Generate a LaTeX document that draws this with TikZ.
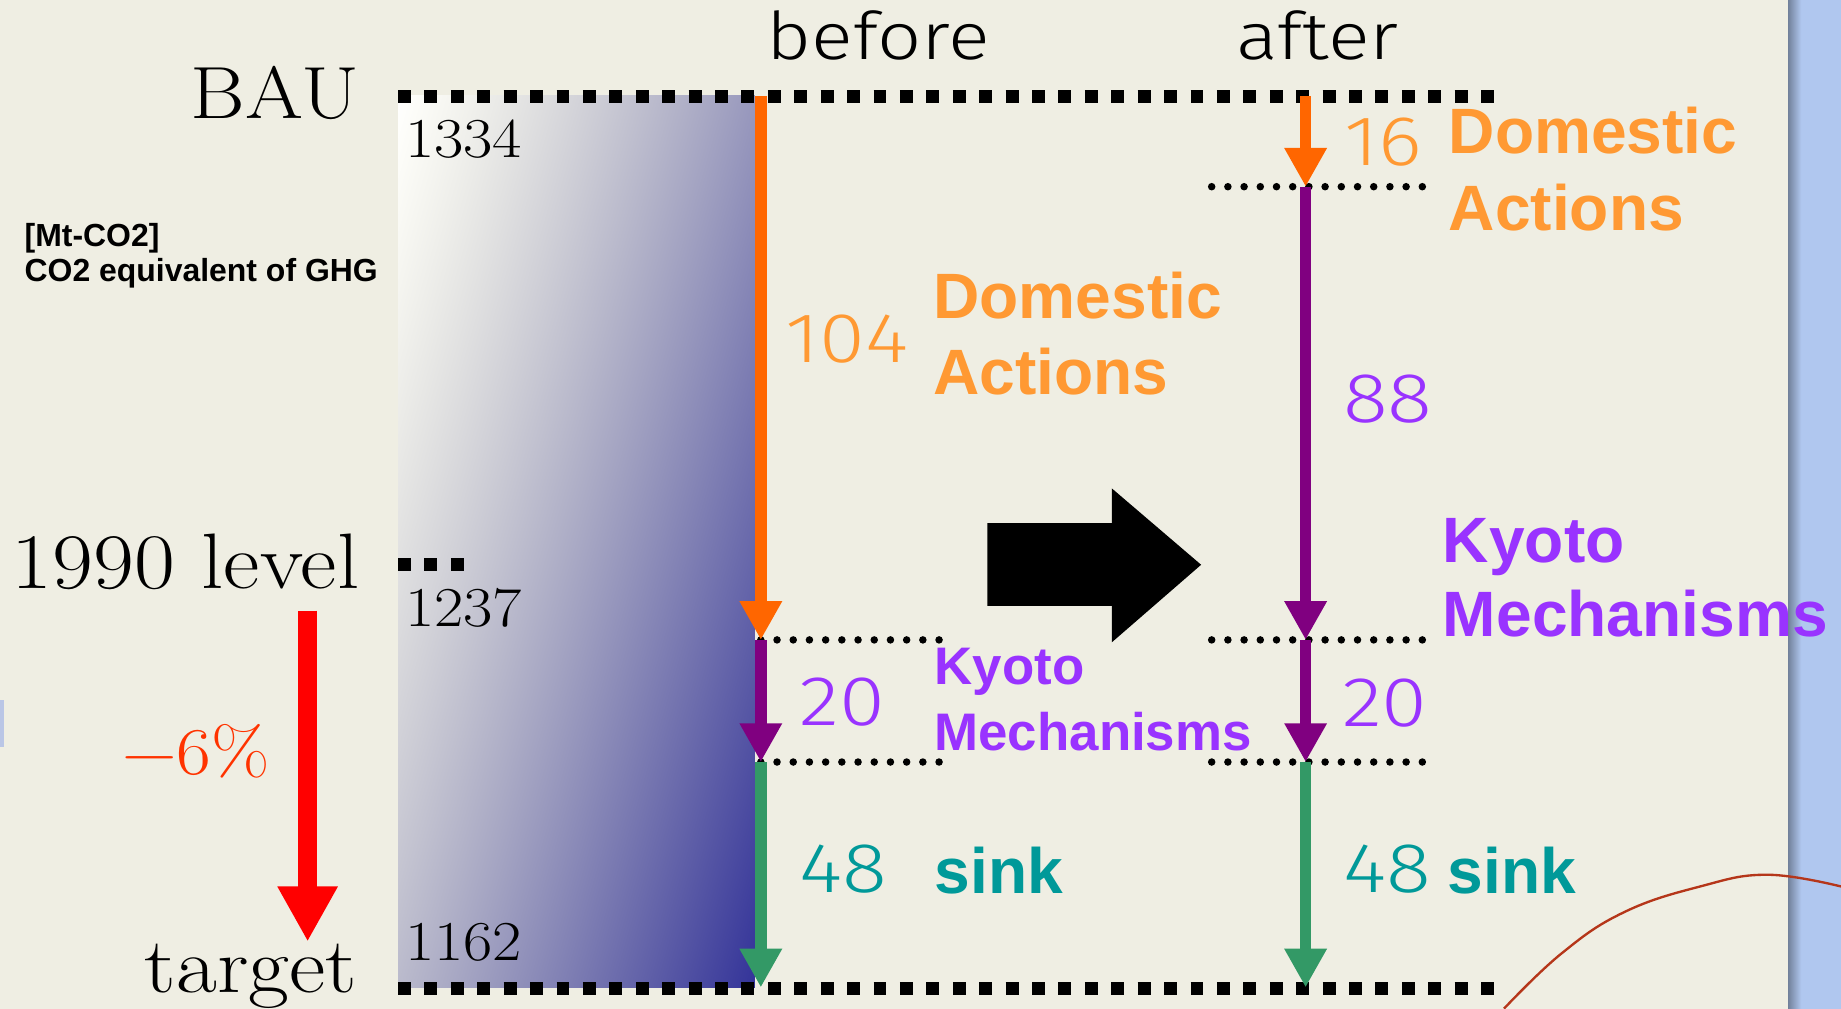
\documentclass[tikz,border=0pt]{standalone}
\usepackage{fontspec}
\newfontfamily\labelsans{Liberation Sans}
\newfontfamily\thinsans{Fira Sans Light}[FakeStretch=1.18]
\newfontfamily\wideserif{Latin Modern Roman}[FakeStretch=1.13]
\usetikzlibrary{arrows.meta}
\definecolor{paper}{HTML}{EFEEE3}
\definecolor{sky}{HTML}{B0C7EF}
\definecolor{smudge}{HTML}{BAC6E6}
\definecolor{domarrow}{HTML}{FF6600}
\definecolor{domtext}{HTML}{FF9933}
\definecolor{kyoarrow}{HTML}{800080}
\definecolor{kyotext}{HTML}{9933FF}
\definecolor{sinkarrow}{HTML}{339966}
\definecolor{sinktext}{HTML}{009999}
\definecolor{cut}{HTML}{FF3300}
\definecolor{thread}{HTML}{B5361A}
% white (top left) to navy (bottom right) across the filled box
\pgfdeclarefunctionalshading{blockfade}{\pgfpointorigin}{\pgfpoint{100bp}{100bp}}{}{
  -0.42 mul exch 0.58 mul add 17 add 50 div
  dup 0 lt {pop 0} if dup 1 gt {pop 1} if
  dup 1.25 exp 0.8 mul 1 exch sub
  dup
  3 -1 roll
  0.8 exp 0.4 mul 1 exch sub
}
\begin{document}
\begin{tikzpicture}[x=0.5pt,y=-0.5pt,
  every node/.style={inner sep=0pt, outer sep=0pt},
  levelline/.style={line width=5.5pt, dash pattern=on 5.5pt off 5.75pt},
  dotline/.style={line width=3.2pt, line cap=round, dash pattern=on 0pt off 6.9pt},
  flow/.style={line width=5pt, -{Triangle[width=17pt,length=16.5pt]}},
  big/.style={font=\wideserif\fontsize{33.5pt}{40pt}\selectfont},
  val/.style={font=\wideserif\fontsize{24pt}{28pt}\selectfont},
  amount/.style={font=\thinsans\fontsize{30pt}{36pt}\selectfont},
  head/.style={font=\thinsans\fontsize{28pt}{33pt}\selectfont},
  cat/.style={font=\labelsans\bfseries\fontsize{27.3pt}{33pt}\selectfont},
  catsmall/.style={font=\labelsans\bfseries\fontsize{22.5pt}{27pt}\selectfont},
  unit/.style={font=\labelsans\bfseries\fontsize{13.6pt}{15pt}\selectfont},
]
\useasboundingbox (0,0) rectangle (1568,859);

% paper sheet on a blue board
\fill[paper] (0,0) rectangle (1524,859);
\fill[sky] (1524,0) rectangle (1568,859);
\shade[left color=black!35!sky, right color=sky] (1523,0) rectangle (1534,859);
\fill[smudge] (0,596) rectangle (3,636);

% emission block
\shade[shading=blockfade] (339,81.5) rectangle (643,841);

% level coordinates
\coordinate (bauL) at (339,82);   \coordinate (bauR) at (1279,82);
\coordinate (tgtL) at (339,842);  \coordinate (tgtR) at (1279,842);
\coordinate (refL) at (339,481);  \coordinate (refR) at (397,481);
\coordinate (bauB) at (648,82);   \coordinate (kyoB) at (648,545);
\coordinate (snkB) at (648,649);  \coordinate (endB) at (648,841);
\coordinate (bauA) at (1112,82);  \coordinate (domA) at (1112,159);
\coordinate (kyoA) at (1112,545); \coordinate (snkA) at (1112,649);
\coordinate (endA) at (1112,841);
\coordinate (cutTop) at (262,520); \coordinate (cutBot) at (262,802);

% levels
\draw[levelline] (bauL) -- (bauR);
\draw[levelline] (tgtL) -- (tgtR);
\draw[levelline] (refL) -- (refR);
\draw[dotline] (kyoB) -- ++(152,0);
\draw[dotline] (snkB) -- ++(152,0);
\draw[dotline] (1032,159) -- (1215,159);
\draw[dotline] (1032,545) -- (1215,545);
\draw[dotline] (1032,649) -- (1215,649);

% reduction flows
\draw[flow, domarrow] (bauB) -- (kyoB);
\draw[flow, kyoarrow] (kyoB) -- (snkB);
\draw[flow, sinkarrow] (snkB) -- (endB);
\draw[flow, domarrow] (bauA) -- (domA);
\draw[flow, kyoarrow] (domA) -- (kyoA);
\draw[flow, kyoarrow] (kyoA) -- (snkA);
\draw[flow, sinkarrow] (snkA) -- (endA);

% reduction from 1990 level to target
\draw[line width=8pt, red, -{Triangle[width=24pt,length=23.5pt]}] (cutTop) -- (cutBot);

% transition arrow
\fill[black] (841,445.5) -- (947,445.5) -- (947,416) -- (1023,481) -- (947,547)
  -- (947,516) -- (841,516) -- cycle;

% thread
\draw[thread, line width=1pt] plot[smooth, tension=0.7] coordinates
  {(1281,859) (1330,812) (1383,777) (1448,755) (1505,745) (1568,755)};

% headings and levels
\node[head, anchor=base] (before) at (748,51) {before};
\node[head, anchor=base] (after) at (1122,51) {after};
\node[font=\wideserif\fontsize{31.5pt}{38pt}\selectfont, anchor=base east] (bau) at (306,101) {BAU};
\node[big, anchor=base east] (lvl) at (306,501) {1990 level};
\node[big, anchor=base east] (tgt) at (304,845) {target};
\node[font=\wideserif\fontsize{28.5pt}{34pt}\selectfont, text=cut, anchor=base west] (pct) at (104,660) {−6\%};
\node[unit, anchor=base west] (unit1) at (21,210) {[Mt-CO2]};
\node[unit, anchor=base west] (unit2) at (21,240) {CO2 equivalent of GHG};

\node[val, anchor=base west] (v1334) at (345,134.5) {1334};
\node[val, anchor=base west] (v1237) at (345,534) {1237};
\node[val, anchor=base west] (v1162) at (345,818) {1162};

% before
\node[amount, text=domtext, anchor=base west] (b104) at (669,309) {104};
\node[cat, text=domtext, anchor=base west] (bdom1) at (795,271) {Domestic};
\node[cat, text=domtext, anchor=base west] (bdom2) at (795,336) {Actions};
\node[amount, text=kyotext, anchor=base west] (b20) at (681,618) {20};
\node[catsmall, text=kyotext, anchor=base west] (bkyo1) at (796,583) {Kyoto};
\node[catsmall, text=kyotext, anchor=base west] (bkyo2) at (796,639) {Mechanisms};
\node[amount, text=sinktext, anchor=base west] (b48) at (681,760) {48};
\node[cat, text=sinktext, anchor=base west] (bsink) at (796,761) {sink};

% after
\node[amount, text=domtext, anchor=base west] (a16) at (1145,141) {16};
\node[cat, text=domtext, anchor=base west] (adom1) at (1234,131) {Domestic};
\node[cat, text=domtext, anchor=base west] (adom2) at (1234,196) {Actions};
\node[amount, text=kyotext, anchor=base west] (a88) at (1144,360) {88};
\node[cat, text=kyotext, anchor=base west] (akyo1) at (1229,479) {Kyoto};
\node[cat, text=kyotext, anchor=base west] (akyo2) at (1229,542) {Mechanisms};
\node[amount, text=kyotext, anchor=base west] (a20) at (1143,619) {20};
\node[amount, text=sinktext, anchor=base west] (a48) at (1144,760) {48};
\node[cat, text=sinktext, anchor=base west] (asink) at (1233,761) {sink};
\end{tikzpicture}
\end{document}
